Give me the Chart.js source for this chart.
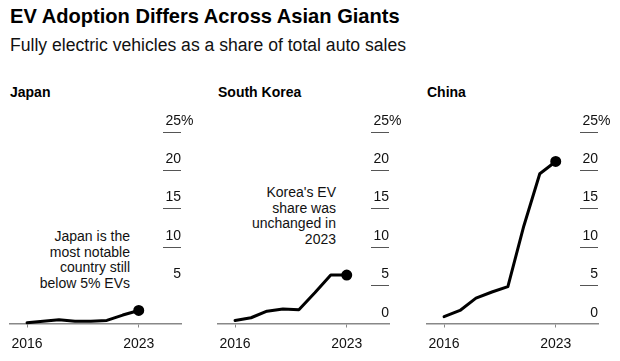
<!DOCTYPE html>
<html>
<head>
<meta charset="utf-8">
<script src="https://cdn.jsdelivr.net/npm/chart.js@4"></script>
<style>
    body { margin: 0; background: #fff; font-family: 'Liberation Sans', Arial, sans-serif; color: #000; }
    #wrap { position: relative; width: 620px; height: 361px; overflow: hidden; }
    .title { position: absolute; left: 10px; top: 5px; font-size: 20.1px; font-weight: bold; }
    .subtitle { position: absolute; left: 10px; top: 35px; font-size: 17.6px; color: #111; }
    .panel-title { position: absolute; top: 84px; font-size: 14px; font-weight: bold; }
    .note { position: absolute; font-size: 14px; line-height: 15.5px; text-align: right; color: #111; }
    canvas { position: absolute; top: 100px; }
</style>
</head>
<body>
<div id="wrap">
    <div class="title">EV Adoption Differs Across Asian Giants</div>
    <div class="subtitle">Fully electric vehicles as a share of total auto sales</div>

    <div class="panel-title" style="left: 10px;">Japan</div>
    <div class="panel-title" style="left: 218px;">South Korea</div>
    <div class="panel-title" style="left: 427px;">China</div>

    <div class="note" style="left: 0px; width: 130px; top: 229px;">Japan is the<br>most notable<br>country still<br>below 5% EVs</div>
    <div class="note" style="left: 200px; width: 136px; top: 185px;">Korea's EV<br>share was<br>unchanged in<br>2023</div>

    <canvas id="japan-chart" width="210" height="261" style="left: 0px;"></canvas>
    <canvas id="korea-chart" width="210" height="261" style="left: 208px;"></canvas>
    <canvas id="china-chart" width="210" height="261" style="left: 417px;"></canvas>
</div>

<script>
const YEARS = [2016, 2017, 2018, 2019, 2020, 2021, 2022, 2023];

const JAPAN = [0.1, 0.3, 0.5, 0.3, 0.3, 0.4, 1.1, 1.7];
const KOREA = [0.4, 0.75, 1.6, 1.9, 1.8, 4.0, 6.3, 6.3];
const CHINA = [0.9, 1.7, 3.3, 4.1, 4.8, 12.7, 19.5, 21.1];

const X_TICKS = [2016, 2023];
const Y_TICKS = [0, 5, 10, 15, 20, 25];
const Y_LABELS = ['0', '5', '10', '15', '20', '25'];

// which y ticks get a short line / a label in each panel
const JAPAN_LINES = [10, 15, 20, 25];
const JAPAN_LABELS = [5, 10, 15, 20, 25];
const OTHER_LINES = [5, 10, 15, 20, 25];
const OTHER_LABELS = [0, 5, 10, 15, 20, 25];

const FONT = "'Liberation Sans', Arial, sans-serif";
const TICK_LEN = 18;
const X_AXIS_HEIGHT = 37.5;

// draws the short tick lines on the right with labels sitting above them
const yTicksPlugin = {
    id: 'yTicks',
    afterDraw(chart, args, opts) {
        var ctx = chart.ctx;
        var y = chart.scales.y;
        var right = chart.chartArea.right;

        ctx.save();
        ctx.strokeStyle = '#555';
        ctx.lineWidth = 1;
        opts.lines.forEach(function (v) {
            var py = Math.round(y.getPixelForValue(v)) + 0.5;
            ctx.beginPath();
            ctx.moveTo(right - TICK_LEN, py);
            ctx.lineTo(right, py);
            ctx.stroke();
        });

        ctx.fillStyle = '#111';
        ctx.font = '14px ' + FONT;
        ctx.textBaseline = 'alphabetic';
        opts.labels.forEach(function (v) {
            var py = y.getPixelForValue(v) - 7;
            var text = Y_LABELS[Y_TICKS.indexOf(v)];
            ctx.textAlign = 'right';
            ctx.fillText(text, right, py);
            if (v === Y_TICKS[Y_TICKS.length - 1]) {
                ctx.textAlign = 'left';
                ctx.fillText('%', right, py);
            }
        });
        ctx.restore();
    }
};

function drawPanel(id, values, lines, labels) {
    var ctx = document.getElementById(id).getContext('2d');
    var points = YEARS.map(function (yr, i) { return { x: yr, y: values[i] }; });
    var last = points.length - 1;

    return new Chart(ctx, {
        type: 'line',
        data: {
            datasets: [{
                data: points,
                borderColor: '#000',
                backgroundColor: '#000',
                borderWidth: 3,
                borderJoinStyle: 'round',
                borderCapStyle: 'round',
                tension: 0,
                clip: false,
                pointRadius: function (c) { return c.dataIndex === last ? 4 : 0; },
                pointHoverRadius: 0
            }]
        },
        options: {
            responsive: false,
            animation: false,
            events: [],
            layout: { padding: { left: 10, right: 29, top: 31.5, bottom: 0 } },
            plugins: {
                legend: { display: false },
                tooltip: { enabled: false },
                yTicks: { lines: lines, labels: labels }
            },
            scales: {
                x: {
                    type: 'linear',
                    min: 2014.93,
                    max: 2025.65,
                    afterBuildTicks: function (scale) {
                        scale.ticks = X_TICKS.map(function (v) { return { value: v }; });
                    },
                    afterFit: function (scale) { scale.height = X_AXIS_HEIGHT; },
                    grid: { drawOnChartArea: false, drawTicks: true, tickLength: 4, color: '#888' },
                    border: { display: true, color: '#888', width: 1.5 },
                    ticks: {
                        color: '#111',
                        font: { family: FONT, size: 14 },
                        padding: 8,
                        maxRotation: 0,
                        autoSkip: false,
                        callback: function (v) { return String(v); }
                    }
                },
                y: {
                    display: false,
                    min: 0,
                    max: 25
                }
            }
        },
        plugins: [yTicksPlugin]
    });
}

drawPanel('japan-chart', JAPAN, JAPAN_LINES, JAPAN_LABELS);
drawPanel('korea-chart', KOREA, OTHER_LINES, OTHER_LABELS);
drawPanel('china-chart', CHINA, OTHER_LINES, OTHER_LABELS);
</script>
</body>
</html>
